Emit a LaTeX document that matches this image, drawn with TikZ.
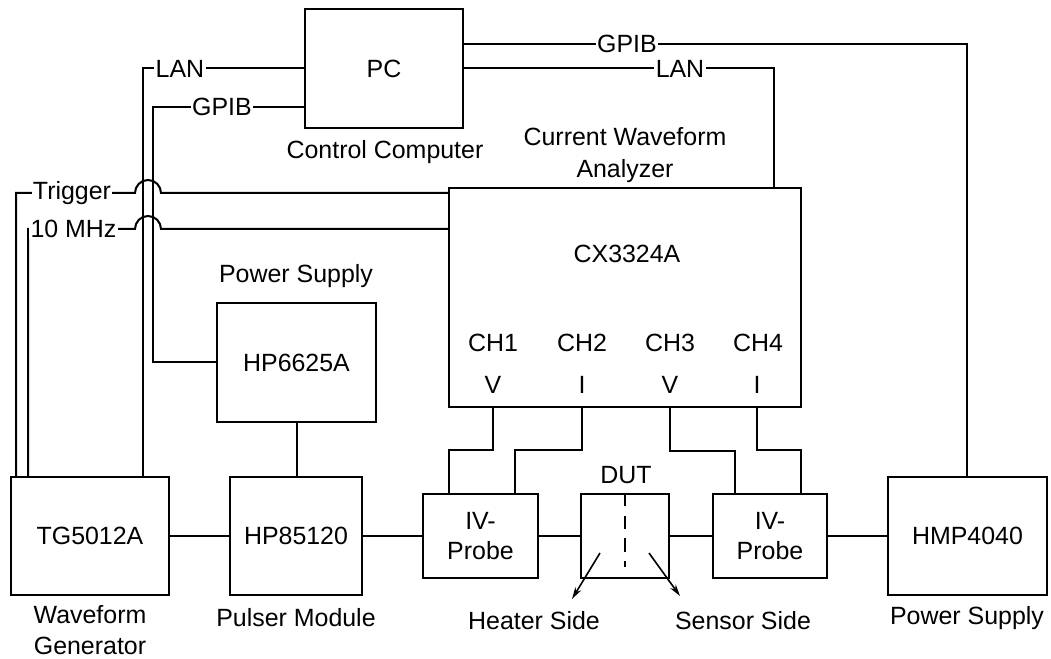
\documentclass[tikz,border=0pt]{standalone}
\usepackage{fontspec}
\setmainfont{Liberation Sans}
\usetikzlibrary{arrows.meta}
\begin{document}
\begin{tikzpicture}[x=0.75pt,y=-0.75pt, line width=1.5pt,
  font=\fontsize{18.7}{21.5}\selectfont,
  box/.style 2 args={draw, inner sep=0pt, minimum width=#1*0.75pt, minimum height=#2*0.75pt, align=center},
  lbl/.style={fill=white, inner sep=1pt},
  txt/.style={align=center, inner sep=0pt}]
\useasboundingbox (0,0) rectangle (1051,659);
% boxes
\node[box={158}{119}] (PC) at (384,68.5) {PC};
\node[box={352}{219}] (CX) at (625,297.5) {};
\node[box={159}{119}] (PS) at (296.5,362.5) {HP6625A};
\node[box={158}{118}] (TG) at (90,536) {TG5012A};
\node[box={132}{118}] (PM) at (296,536) {HP85120};
\node[box={115}{84}] (IV1) at (480.5,536) {IV-\\[1pt]Probe};
\node[box={88}{84}] (DUT) at (625,536) {};
\node[box={114}{84}] (IV2) at (770,536) {IV-\\[1pt]Probe};
\node[box={159}{118}] (HMP) at (967.5,536) {HMP4040};
% texts
\node[txt] (cc) at (385,152) {Control Computer};
\node[txt] (cwa) at (625,155) {Current Waveform\\[2pt]Analyzer};
\node[txt] (cxl) at (627,254) {CX3324A};
\node[txt] (ch1) at (493,343) {CH1};
\node[txt] (ch2) at (582,343) {CH2};
\node[txt] (ch3) at (670,343) {CH3};
\node[txt] (ch4) at (758,343) {CH4};
\node[txt] (v1) at (493,385) {V};
\node[txt] (i2) at (582,385) {I};
\node[txt] (v3) at (670,385) {V};
\node[txt] (i4) at (757,385) {I};
\node[txt] (pstop) at (296,276) {Power Supply};
\node[txt] (wg) at (90,630) {Waveform\\[2pt]Generator};
\node[txt] (pml) at (296,618) {Pulser Module};
\node[txt] (dutl) at (626,475) {DUT};
\node[txt] (hs) at (534,621) {Heater Side};
\node[txt] (ss) at (743,621) {Sensor Side};
\node[txt] (psr) at (967,618) {Power Supply};
% left PC connections
\draw (PC.west) -- (143,68.5) -- (143,0 |- TG.north);
\node[lbl] (lanl) at (180,68.5) {LAN};
\draw (PC.west |- 0,107) -- (153,107) -- (153,0 |- PS.west) -- (PS.west);
\node[lbl] (gpibl) at (222,107) {GPIB};
% trigger and 10 MHz with hops
\draw (16,0 |- TG.north) -- (16,193) -- (135,193) arc[start angle=180, end angle=0, radius=9.75pt] -- (CX.west |- 0,193);
\node[lbl] (trig) at (72,193) {Trigger};
\draw (28,0 |- TG.north) -- (28,229) -- (135,229) arc[start angle=180, end angle=0, radius=9.75pt] -- (CX.west |- 0,229);
\node[lbl] (tenm) at (73.5,229) {10 MHz};
% right PC connections
\draw (PC.east) -- (774,68.5) -- (774,0 |- CX.north);
\node[lbl] (lanr) at (680,68.5) {LAN};
\draw (PC.east |- 0,44) -- (967,44) -- (967,0 |- HMP.north);
\node[lbl] (gpibr) at (627,44) {GPIB};
% chain
\draw (TG.east) -- (PM.west);
\draw (PM.east) -- (IV1.west);
\draw (IV1.east) -- (DUT.west);
\draw (DUT.east) -- (IV2.west);
\draw (IV2.east) -- (HMP.west);
\draw (PS.south) -- (PS.south |- PM.north);
% channels
\draw (v1 |- CX.south) -- (493,450) -- (449,450) -- (449,0 |- IV1.north);
\draw (i2 |- CX.south) -- (582,450) -- (515,450) -- (515,0 |- IV1.north);
\draw (v3 |- CX.south) -- (670,451) -- (735,451) -- (735,0 |- IV2.north);
\draw (i4 |- CX.south) -- (757,450) -- (801,450) -- (801,0 |- IV2.north);
% DUT internals
\coordinate (dd) at (625,567);
\draw[dash pattern=on 10pt off 7pt] (DUT.north) -- (dd);
\coordinate (ha) at (600,553);
\coordinate (hb) at (572,599);
\coordinate (sa) at (649,553);
\coordinate (sb) at (680,596);
\draw[line width=1.2pt, -{Stealth[length=9pt,width=5pt]}] (ha) -- (hb);
\draw[line width=1.2pt, -{Stealth[length=9pt,width=5pt]}] (sa) -- (sb);
\end{tikzpicture}
\end{document}
